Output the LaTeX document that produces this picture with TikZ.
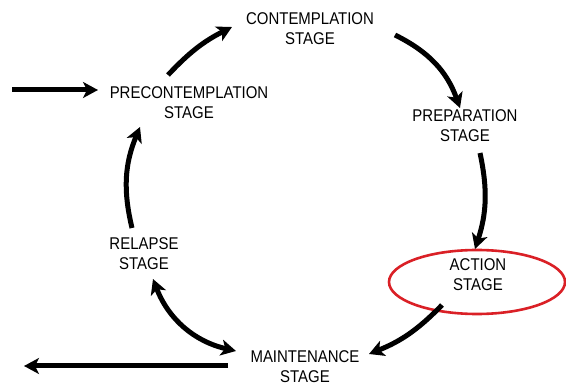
\documentclass[tikz,border=0pt]{standalone}
\usepackage{fontspec}
\setmainfont[FakeStretch=0.88]{Liberation Sans}
\usetikzlibrary{arrows.meta}
\definecolor{ringred}{RGB}{218,32,38}
\begin{document}
\begin{tikzpicture}[x=1pt,y=1pt,
  stagelabel/.style={align=center,inner sep=0pt,font=\fontsize{17}{20}\selectfont},
  flow/.style={line width=5pt,-{Stealth[length=15pt,width=16pt,inset=4pt]}},
  flowboth/.style={line width=5pt,{Stealth[length=15pt,width=16pt,inset=4pt]}-{Stealth[length=15pt,width=16pt,inset=4pt]}}]
\useasboundingbox (0,0) rectangle (566,-385);

\node[stagelabel] (con) at (310,-28.5) {CONTEMPLATION\\STAGE};
\node[stagelabel] (pre) at (189,-102.5) {PRECONTEMPLATION\\STAGE};
\node[stagelabel] (prep) at (465,-126) {PREPARATION\\STAGE};
\node[stagelabel] (rel) at (144,-253.5) {RELAPSE\\STAGE};
\node[stagelabel] (act) at (478,-275) {ACTION\\STAGE};
\node[stagelabel] (main) at (305,-367) {MAINTENANCE\\STAGE};

\draw[ringred,line width=2.6pt] (477,-282) ellipse [x radius=88, y radius=32];

\coordinate (inS) at (12,-90);
\coordinate (inE) at (98,-90);
\coordinate (pcS) at (168,-75);
\coordinate (pcE) at (232,-27);
\coordinate (cpS) at (395,-35);
\coordinate (cpE) at (460,-108);
\coordinate (paS) at (480,-153);
\coordinate (paE) at (475,-249);
\coordinate (amS) at (442,-305);
\coordinate (amE) at (369,-354);
\coordinate (mrS) at (236,-351);
\coordinate (mrE) at (153,-279);
\coordinate (rpS) at (132,-228);
\coordinate (rpE) at (140,-127);
\coordinate (outS) at (228,-366);
\coordinate (outE) at (24,-366);

\draw[flow] (inS) -- (inE);
\draw[flow] (pcS) to[bend left=10] (pcE);
\draw[flow] (cpS) to[bend left=22] (cpE);
\draw[flow] (paS) to[bend left=15] (paE);
\draw[flow] (amS) to[bend left=12] (amE);
\draw[flowboth] (mrS) to[bend left=28] (mrE);
\draw[flow] (rpS) to[bend left=18] (rpE);
\draw[flow] (outS) -- (outE);
\end{tikzpicture}
\end{document}
